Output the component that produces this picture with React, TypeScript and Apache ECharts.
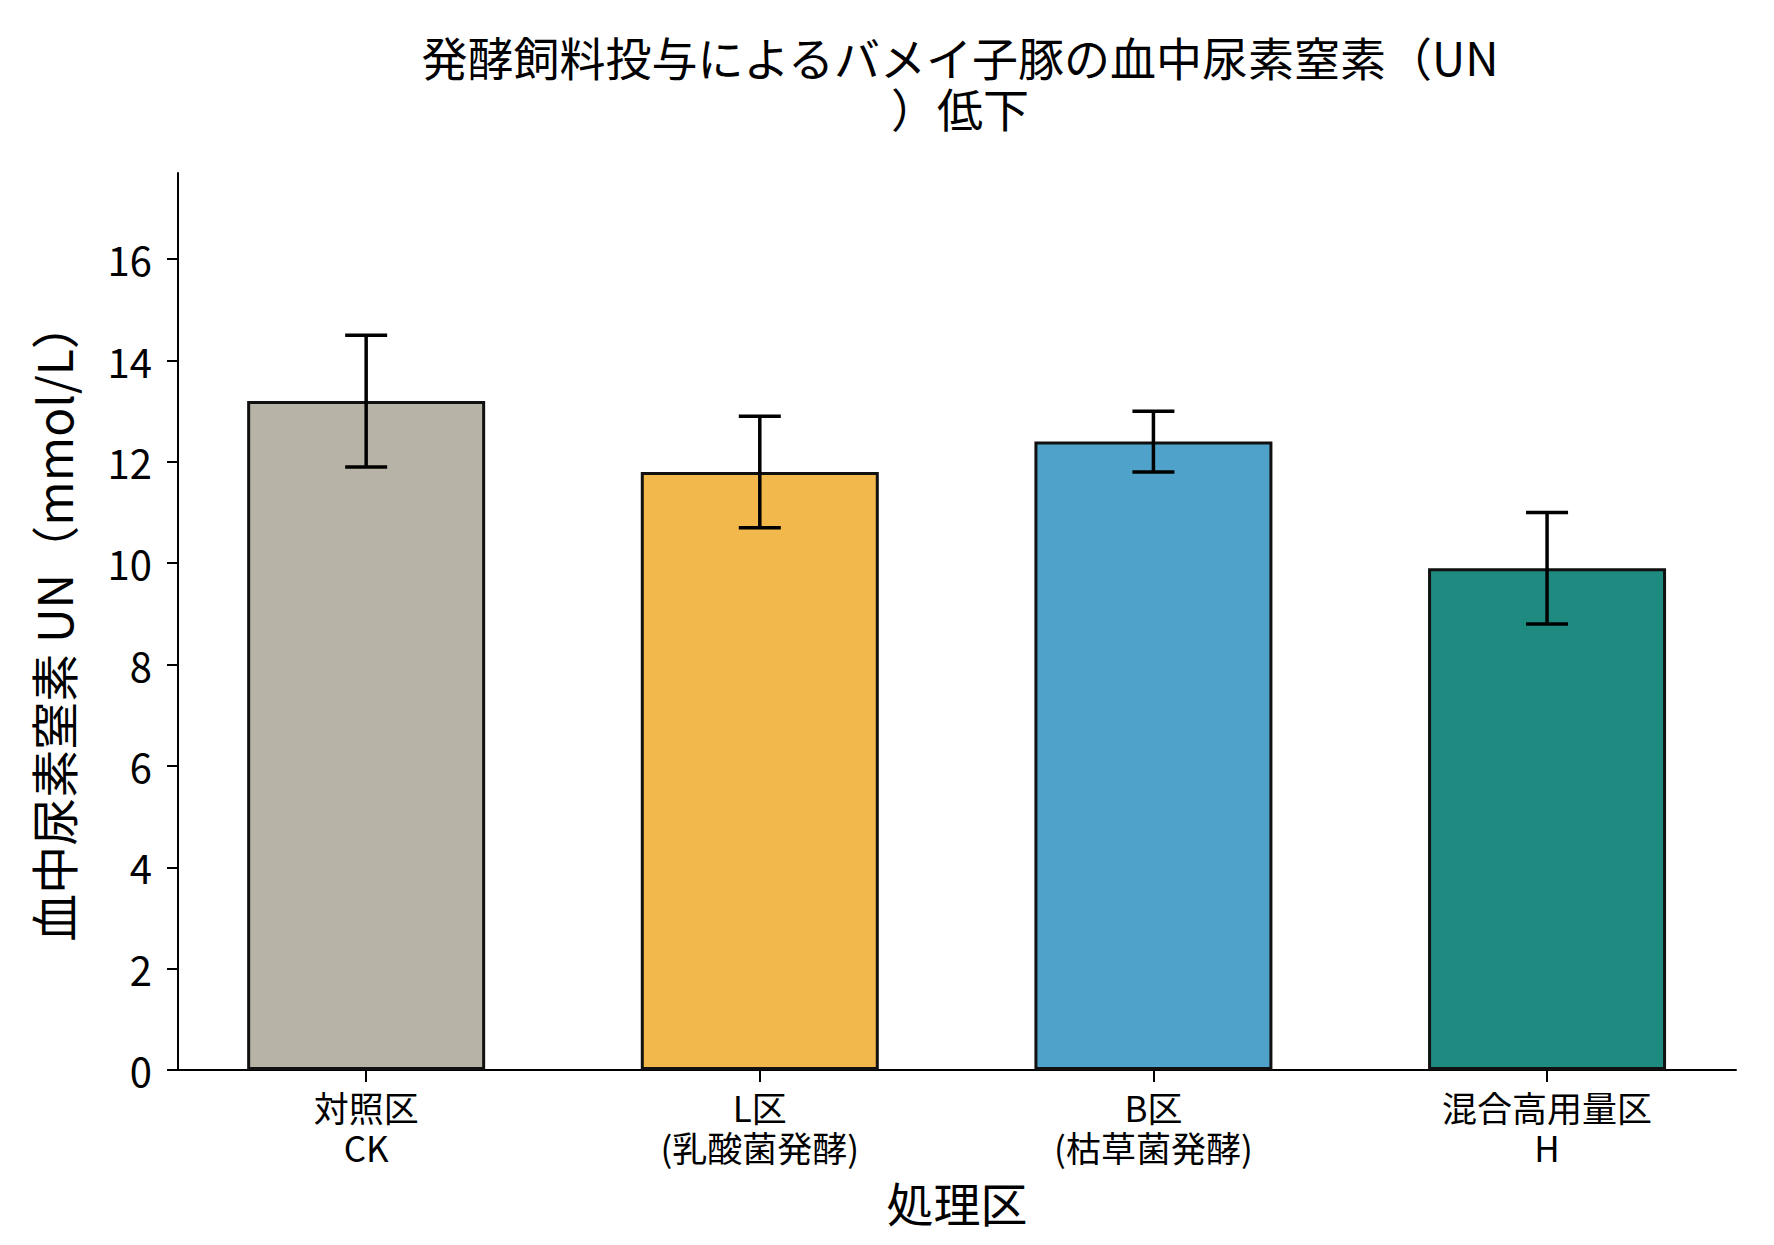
import React, { useEffect, useRef } from "react";
import * as echarts from "echarts";

const categories = ["対照区\nCK", "L区\n(乳酸菌発酵)", "B区\n(枯草菌発酵)", "混合高用量区\nH"];
const means = [13.2, 11.8, 12.4, 9.9];
const errors = [1.3, 1.1, 0.6, 1.1];
const barColors = ["#b8b3a7", "#f2b84b", "#4fa2c9", "#1f8a80"];
const yTicks = [0, 2, 4, 6, 8, 10, 12, 14, 16];
const xTicks = [0, 1, 2, 3];
const titleLines = ["発酵飼料投与によるバメイ子豚の血中尿素窒素（UN", "）低下"];
const xName = "処理区";
const yName = "血中尿素窒素 UN（mmol/L）";

const FONT = "'Noto Sans CJK JP', 'Noto Sans', sans-serif";

export default function App() {
  const ref = useRef<HTMLDivElement>(null);
  useEffect(() => {
    if (!ref.current) return;
    const chart = echarts.init(ref.current, undefined, { renderer: "svg" });
    const gridLeft = 178;
    const gridRight = 38;
    const W = 1774;
    const centerX = (gridLeft + (W - gridRight)) / 2 + 3;
    chart.setOption({
      animation: false,
      backgroundColor: "#ffffff",
      textStyle: { fontFamily: FONT },
      graphic: titleLines.map((t, i) => ({
        type: "text",
        x: centerX,
        y: 56 + i * 51,
        style: {
          text: t,
          fontSize: 46,
          fontFamily: FONT,
          fill: "#000",
          align: "center",
          verticalAlign: "middle",
        },
      })),
      grid: { left: gridLeft, right: gridRight, top: 173, bottom: 175, containLabel: false },
      xAxis: {
        type: "value",
        min: -0.478,
        max: 3.48,
        axisLine: { show: true, onZero: false, lineStyle: { color: "#000", width: 2 } },
        axisTick: { show: true, customValues: xTicks, length: 12, lineStyle: { color: "#000", width: 2 } },
        axisLabel: {
          customValues: xTicks,
          formatter: (v: number) => categories[Math.round(v)] ?? "",
          fontSize: 35,
          lineHeight: 40,
          margin: 16,
          color: "#000",
          fontFamily: FONT,
        },
        splitLine: { show: false },
        name: xName,
        nameLocation: "middle",
        nameGap: 108,
        nameTextStyle: { fontSize: 47, color: "#000", fontFamily: FONT, verticalAlign: "top" },
      },
      yAxis: {
        type: "value",
        min: 0,
        max: 17.7,
        axisLine: { show: true, onZero: false, lineStyle: { color: "#000", width: 2 } },
        axisTick: { show: true, customValues: yTicks, length: 11, lineStyle: { color: "#000", width: 2 } },
        axisLabel: {
          customValues: yTicks,
          fontSize: 40,
          margin: 26,
          color: "#000",
          fontFamily: FONT,
        },
        splitLine: { show: false },
        name: yName,
        nameLocation: "middle",
        nameGap: 102,
        nameRotate: 90,
        nameTextStyle: { fontSize: 48, color: "#000", fontFamily: FONT },
      },
      series: [
        {
          type: "bar",
          barWidth: 238,
          data: means.map((v, i) => ({
            value: [i, v],
            itemStyle: { color: barColors[i] },
          })),
          itemStyle: { borderColor: "#111", borderWidth: 3 },
          z: 2,
        },
        {
          type: "custom",
          z: 5,
          encode: { x: 0, y: [1, 2] },
          data: means.map((m, i) => [i, m - errors[i], m + errors[i]]),
          renderItem: (params: any, api: any) => {
            const x = api.value(0);
            const lo = api.coord([x, api.value(1)]);
            const hi = api.coord([x, api.value(2)]);
            const cap = 21;
            const style = { stroke: "#000", lineWidth: 3.5 };
            return {
              type: "group",
              children: [
                { type: "line", shape: { x1: lo[0], y1: lo[1], x2: hi[0], y2: hi[1] }, style },
                { type: "line", shape: { x1: hi[0] - cap, y1: hi[1], x2: hi[0] + cap, y2: hi[1] }, style },
                { type: "line", shape: { x1: lo[0] - cap, y1: lo[1], x2: lo[0] + cap, y2: lo[1] }, style },
              ],
            };
          },
        },
      ],
    });
    return () => chart.dispose();
  }, []);
  return (
    <div
      ref={ref}
      style={{ position: "fixed", left: 0, top: 0, width: 1774, height: 1245, background: "#fff" }}
    />
  );
}
